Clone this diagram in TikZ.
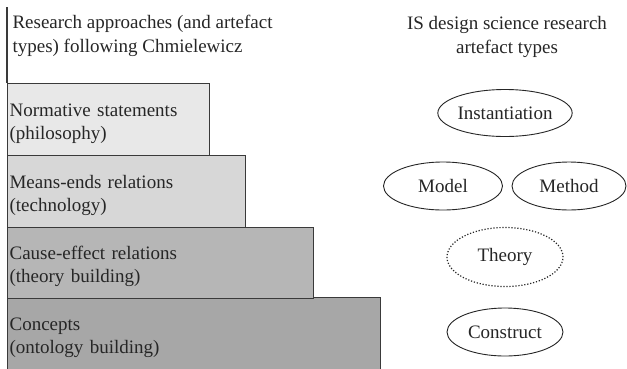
\documentclass[tikz,border=0pt]{standalone}
\usepackage{fontspec}
\setmainfont{Liberation Serif}
\usetikzlibrary{shapes.geometric}
\definecolor{boxa}{HTML}{E8E8E8}
\definecolor{boxb}{HTML}{D7D7D7}
\definecolor{boxc}{HTML}{B6B6B6}
\definecolor{boxd}{HTML}{A7A7A7}
\definecolor{edge}{HTML}{3A3A3A}
\newcommand{\topstrut}{\rule{0pt}{20pt}}
\tikzset{
  stepbox/.style={draw=edge, line width=1.2pt, anchor=north west, align=left,
    inner xsep=2pt, inner ysep=0pt, font=\fontsize{19}{23}\selectfont, text=black!85},
  artefact/.style={ellipse, draw=black!85, line width=0.9pt, fill=white, inner sep=0pt,
    minimum height=48pt, font=\fontsize{19}{22}\selectfont, text=black!85},
  heading/.style={font=\fontsize{19}{23.5}\selectfont, text=black!85}
}
\begin{document}
\begin{tikzpicture}[x=1pt,y=-1pt]
\useasboundingbox (0,0) rectangle (627,368);
\node[stepbox, fill=boxd, minimum width=373pt, minimum height=72pt, text width=369pt] (concepts) at (7,297) {\topstrut Concepts\\(ontology building)};
\node[stepbox, fill=boxc, minimum width=306pt, minimum height=71pt, text width=302pt] (cause) at (7,227) {\topstrut Cause-effect relations\\(theory building)};
\node[stepbox, fill=boxb, minimum width=238pt, minimum height=72pt, text width=234pt] (means) at (7,155) {\topstrut Means-ends relations\\(technology)};
\node[stepbox, fill=boxa, minimum width=202pt, minimum height=72pt, text width=198pt] (norm) at (7,83) {\topstrut Normative statements\\(philosophy)};
\coordinate (axistop) at (7,7);
\draw[draw=edge, line width=1.2pt] (axistop) -- (norm.north west);
\node[heading, anchor=west, align=left] (lefthead) at (9,36) {Research approaches (and artefact\\types) following Chmielewicz};
\node[heading, align=center] (righthead) at (507,37) {IS design science research\\artefact types};
\node[artefact, minimum width=116pt, minimum height=47pt] (inst) at (505,113) {Instantiation};
\node[artefact, minimum width=119pt] (model) at (443,186) {Model};
\node[artefact, minimum width=114pt] (method) at (569,186) {Method};
\node[artefact, minimum width=116pt, minimum height=59pt, line width=1.2pt, dash pattern=on 1.2pt off 1.8pt] (theory) at (505,257) {Theory};
\node[artefact, minimum width=116pt] (construct) at (505,332) {Construct};
\end{tikzpicture}
\end{document}
